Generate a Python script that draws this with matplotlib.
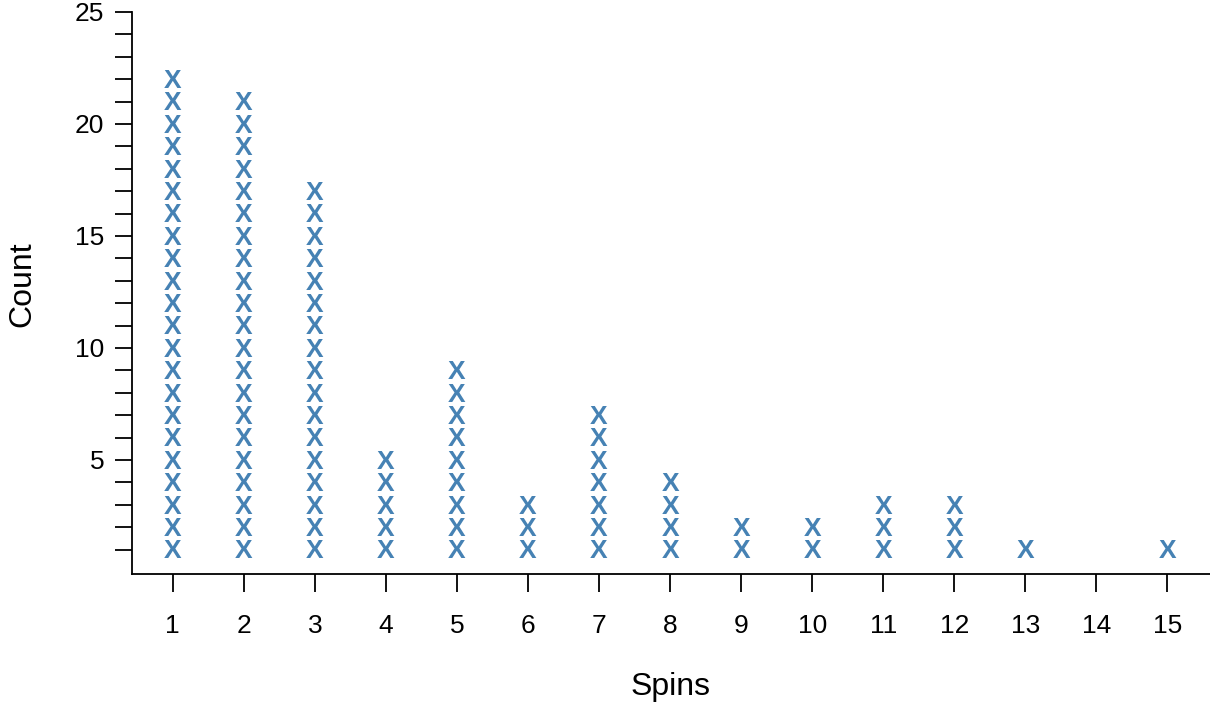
import matplotlib.pyplot as plt

plt.rcParams["font.family"] = ["Liberation Sans", "DejaVu Sans"]

spins = list(range(1, 16))
counts = [22, 21, 17, 5, 9, 3, 7, 4, 2, 2, 3, 3, 1, 0, 1]

fig = plt.figure(figsize=(12.1, 7.02), dpi=100)
ax = fig.add_axes([0.109, 0.1823, 0.891, 0.8007])

for s, c in zip(spins, counts):
    for k in range(1, c + 1):
        ax.text(s, k - 0.08, "X", color="#4682B4", fontsize=19, fontweight="bold",
                ha="center", va="center")

ax.set_xlim(0.424, 15.6)
ax.set_ylim(-0.09, 25)
ax.spines["top"].set_visible(False)
ax.spines["right"].set_visible(False)
ax.spines["left"].set_bounds(-0.09, 25)
ax.spines["left"].set_linewidth(1.3)
ax.spines["bottom"].set_linewidth(1.3)

ax.set_xticks(spins)
ax.set_xticklabels([str(s) for s in spins])
ax.set_yticks(range(1, 26), minor=True)
ax.set_yticks([5, 10, 15, 20, 25])
ax.tick_params(axis="x", length=13, width=1.3, pad=16, labelsize=19)
ax.tick_params(axis="y", which="both", length=12, width=1.3, pad=8, labelsize=19)

ax.set_xlabel("Spins", fontsize=23, labelpad=24)
ax.set_ylabel("Count", fontsize=23)
ax.yaxis.set_label_coords(-0.088, 0.516)

fig.savefig("out.png", dpi=100)
